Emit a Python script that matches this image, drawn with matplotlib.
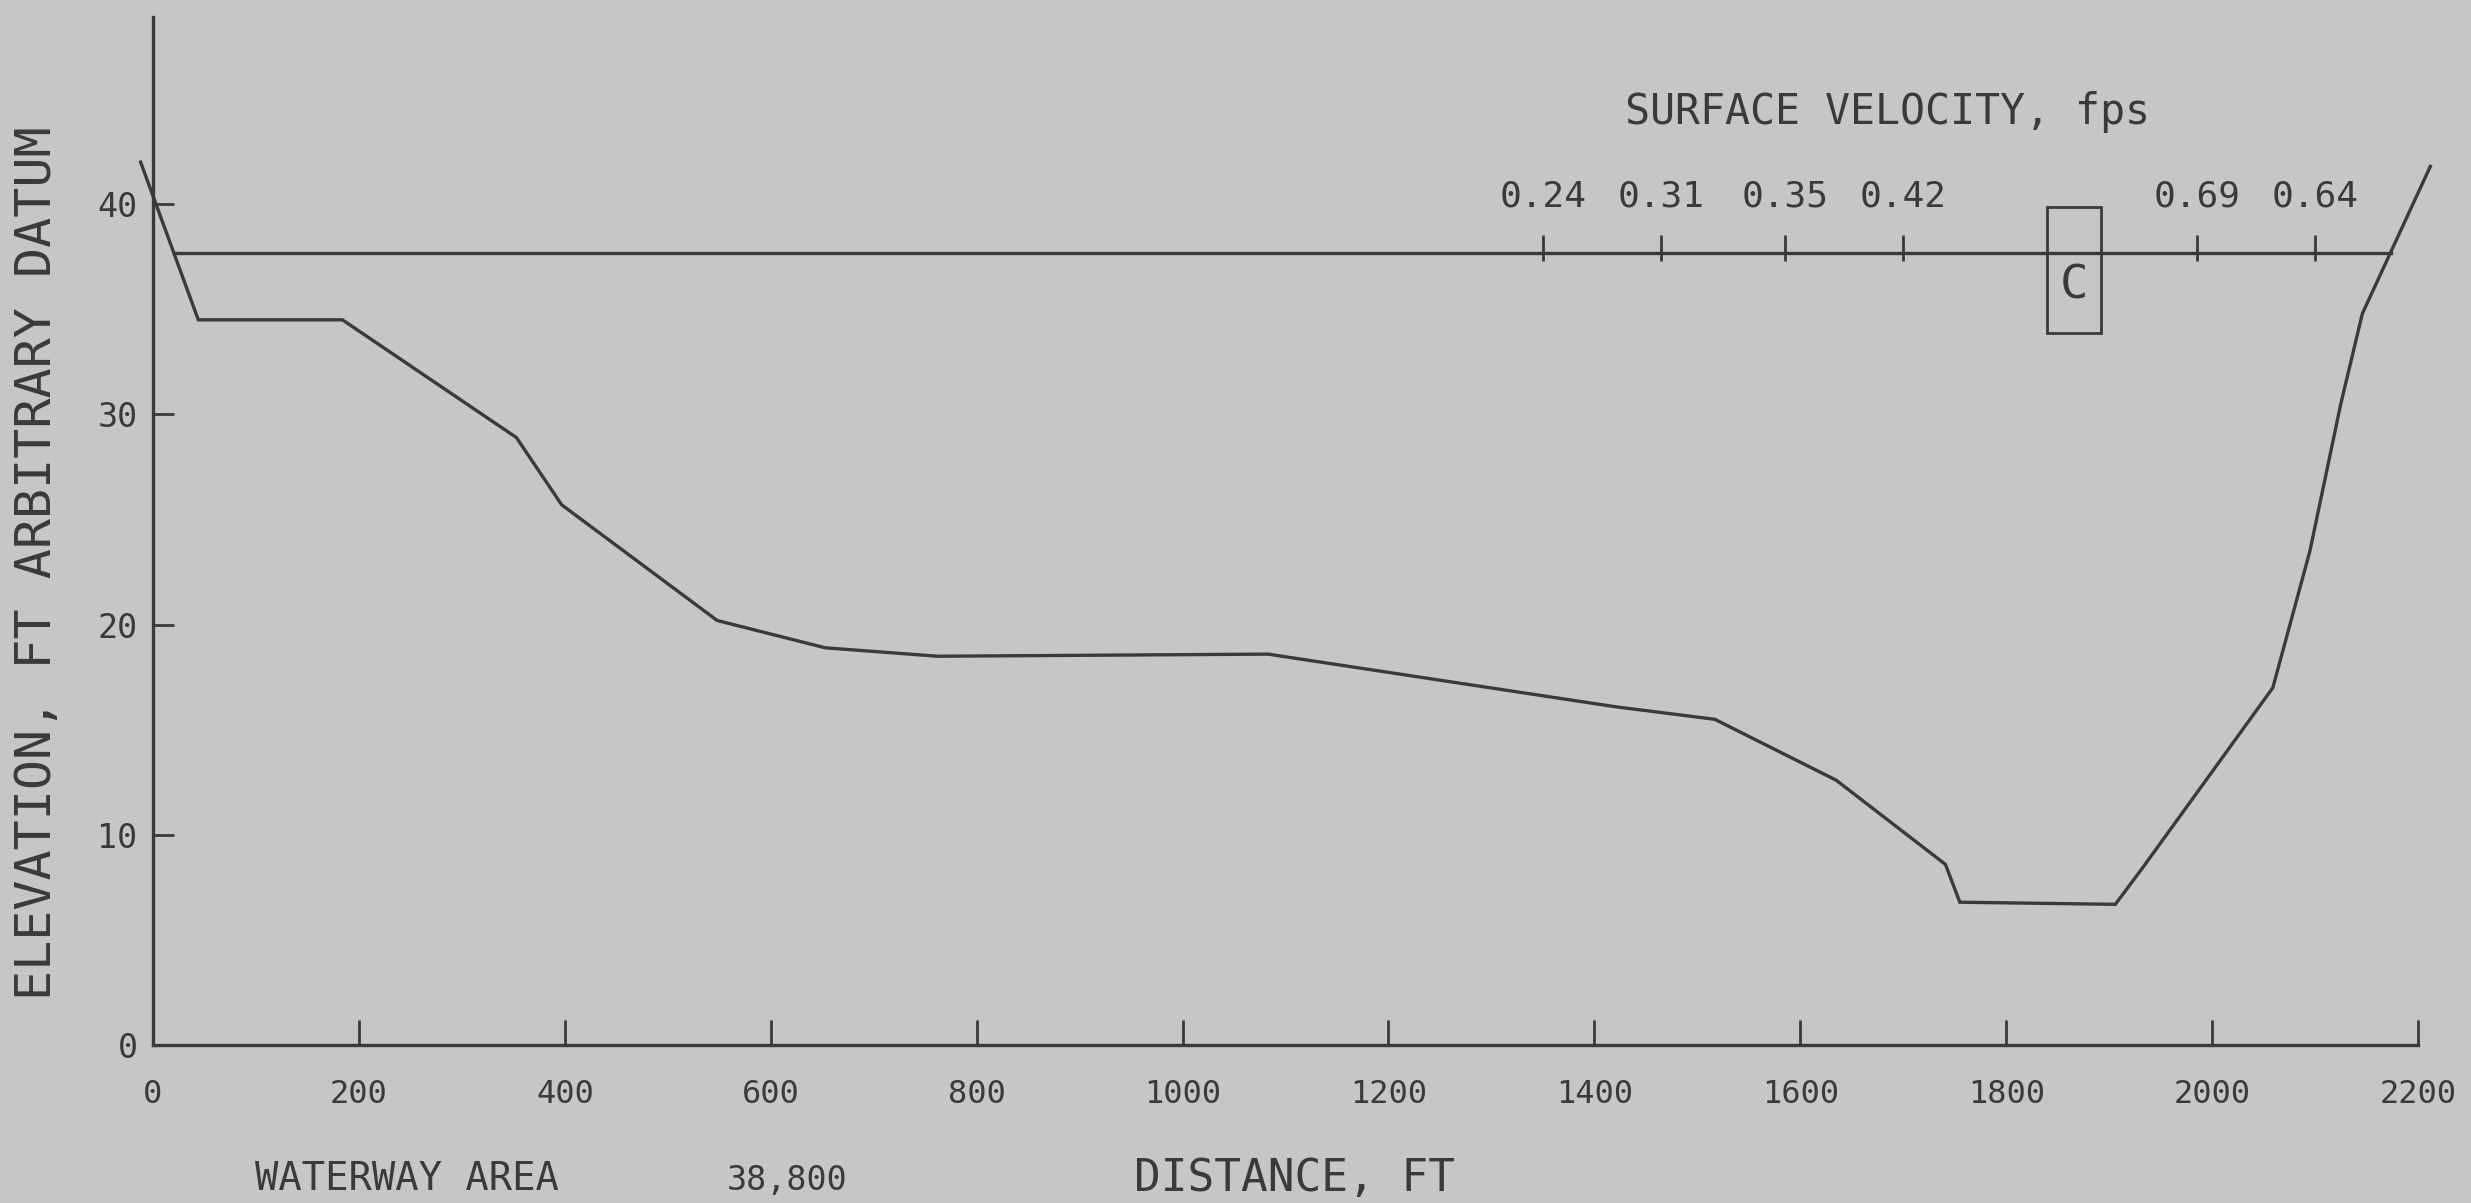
import matplotlib
matplotlib.use("Agg")
import matplotlib.pyplot as plt
from matplotlib.patches import Rectangle

# ground profile across the channel
station = [-12, 44, 184, 353, 397, 548, 653, 762, 1083, 1420, 1517, 1635,
           1741, 1755, 1906, 1932, 2059, 2095, 2125, 2146, 2212]
elevation = [42.0, 34.5, 34.5, 28.9, 25.7, 20.2, 18.9, 18.5, 18.6, 16.1, 15.5, 12.6,
             8.6, 6.8, 6.7, 8.4, 17.0, 23.5, 30.5, 34.8, 41.8]
water_el = 37.7

# float-velocity stations on the water surface
vel_station = [1350, 1465, 1585, 1700, 1985, 2100]
vel_fps = [0.24, 0.31, 0.35, 0.42, 0.69, 0.64]

x_ticks = [0, 200, 400, 600, 800, 1000, 1200, 1400, 1600, 1800, 2000, 2200]
y_ticks = [0, 10, 20, 30, 40]

waterway_area = 38800

INK = "#3a3a3a"
PAPER = "#c6c7c5"
plt.rcParams["font.family"] = "DejaVu Sans Mono"


def bank_crossings(xs, ys, level):
    hits = []
    for x0, y0, x1, y1 in zip(xs, ys, xs[1:], ys[1:]):
        if (y0 - level) * (y1 - level) < 0:
            hits.append(x0 + (level - y0) * (x1 - x0) / (y1 - y0))
    return hits[0], hits[-1]


fig = plt.figure(figsize=(24.71, 12.03), dpi=100, facecolor=PAPER)
ax = fig.add_axes([0.05358, 0.1137, 0.9458, 0.8826])
ax.set_facecolor("none")
ax.set_xlim(-20, 2250)
ax.set_ylim(-1, 49.5)

ax.plot(station, elevation, color=INK, lw=2.4, solid_joinstyle="miter")

left, right = bank_crossings(station, elevation, water_el)
ax.plot([left, right], [water_el, water_el], color=INK, lw=2.4)

ax.vlines(vel_station, water_el - 0.4, water_el + 0.85, color=INK, lw=2)
for s, v in zip(vel_station, vel_fps):
    ax.annotate(f"{v:.2f}", (s, water_el), xytext=(0, 33), textcoords="offset points",
                ha="center", va="baseline", fontsize=26, color=INK)
ax.text(1685, 43.8, "SURFACE VELOCITY, fps", ha="center", va="baseline",
        fontsize=30, color=INK)

ax.add_patch(Rectangle((1839.5, 33.85), 52.5, 6.0, fill=False, ec=INK, lw=2))
ax.text(1866, 36.1, "C", ha="center", va="center", fontsize=34, color=INK)

# bare plotter-style axes through the origin
for side in ("top", "right"):
    ax.spines[side].set_visible(False)
ax.spines["left"].set_position(("data", 0))
ax.spines["bottom"].set_position(("data", 0))
ax.spines["left"].set_bounds(0, 48.9)
ax.spines["bottom"].set_bounds(0, 2200)
for side in ("left", "bottom"):
    ax.spines[side].set_color(INK)
    ax.spines[side].set_linewidth(2.4)

ax.set_xticks(x_ticks)
ax.set_yticks(y_ticks)
ax.tick_params(axis="x", direction="in", length=18, width=2, pad=24,
               labelsize=23, colors=INK)
ax.tick_params(axis="y", direction="in", length=15, width=2, pad=11,
               labelsize=24, colors=INK)

fig.text(0.015, 0.532, "ELEVATION, FT ARBITRARY DATUM", rotation=90,
         ha="center", va="center", fontsize=36, color=INK)
fig.text(0.524, 0.038, "DISTANCE, FT", ha="center", va="top", fontsize=32, color=INK)
fig.text(0.103, 0.004, "WATERWAY AREA", ha="left", va="bottom", fontsize=28, color=INK)
fig.text(0.294, 0.005, f"{waterway_area:,}", ha="left", va="bottom", fontsize=24, color=INK)

fig.savefig("out.png", dpi=100, facecolor=PAPER)
